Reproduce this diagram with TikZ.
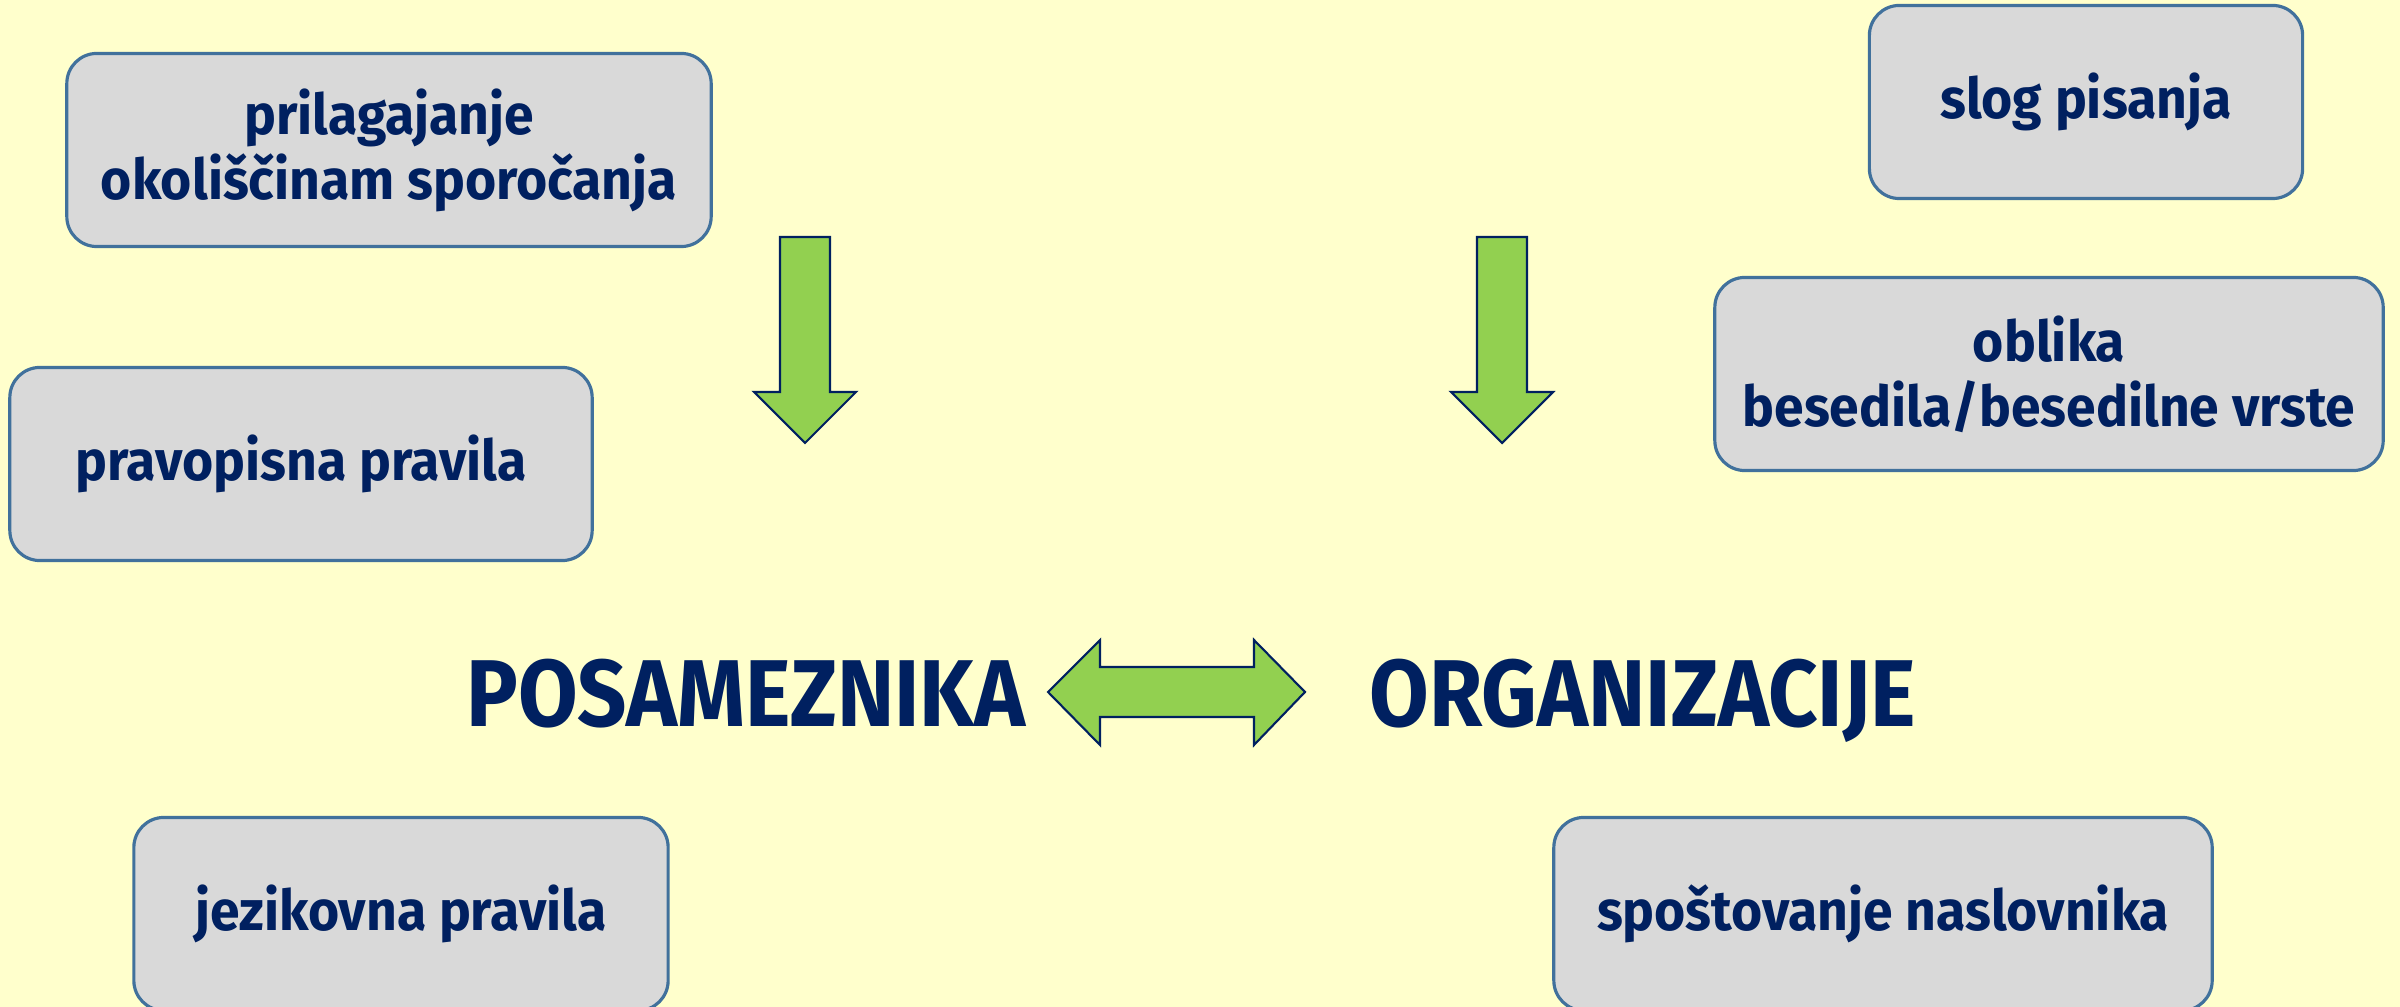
\documentclass[tikz,border=0pt]{standalone}
\usepackage{fontspec}
\setmainfont{Fira Sans}[FakeStretch=0.95]
\newfontfamily\bigfont{Fira Sans}[FakeStretch=0.91]
\usepackage{tikz}
\usetikzlibrary{positioning}

\definecolor{bgyellow}{HTML}{FFFFCC}
\definecolor{navy}{HTML}{002060}
\definecolor{boxgray}{HTML}{D9D9D9}
\definecolor{boxline}{HTML}{41719C}
\definecolor{arrowgreen}{HTML}{92D050}

\begin{document}
\begin{tikzpicture}[
    x=0.01cm, y=-0.01cm,
    textbox/.style={rectangle, rounded corners=0.3cm, minimum height=1.93cm, inner sep=0pt, align=center, draw=boxline, line width=0.9pt, fill=boxgray, text=navy, font=\bfseries\fontsize{16}{18.5}\selectfont},
    bigword/.style={anchor=base, inner sep=0pt, text=navy, font=\bigfont\bfseries\fontsize{27}{30}\selectfont},
    greenarrow/.style={fill=arrowgreen, draw=navy, line width=0.6pt, line join=miter}
]

% Hintergrund
\fill[bgyellow] (0,0) rectangle (2400,1007);
\useasboundingbox (0,0) rectangle (2400,1007);

% Kästen
\node (prilag) [textbox, minimum width=6.44cm] at (389,150) {prilagajanje\\okoliščinam sporočanja};
\node (pravop) [textbox, minimum width=5.82cm] at (301,464) {pravopisna pravila};
\node (jezik) [textbox, minimum width=5.34cm] at (401,914) {jezikovna pravila};
\node (slog) [textbox, minimum width=4.33cm] at (2086,102) {slog pisanja};
\node (oblika) [textbox, minimum width=6.68cm] at (2049,374) {oblika\\besedila/besedilne vrste};
\node (spost) [textbox, minimum width=6.58cm] at (1883,914) {spoštovanje naslovnika};

% Mitte
\node (posam) [bigword] at (746,727) {POSAMEZNIKA};
\node (organ) [bigword] at (1643,727) {ORGANIZACIJE};

% Pfeile
\coordinate (downL) at (805,237);
\coordinate (downR) at (1502,237);
\coordinate (dbl) at (1177,692);
\draw[greenarrow] (downL) ++(-25,0) -- ++(50,0) -- ++(0,155) -- ++(26,0) -- ++(-51,51) -- ++(-51,-51) -- ++(26,0) -- cycle;
\draw[greenarrow] (downR) ++(-25,0) -- ++(50,0) -- ++(0,155) -- ++(26,0) -- ++(-51,51) -- ++(-51,-51) -- ++(26,0) -- cycle;
\draw[greenarrow] (dbl) ++(-129,0) -- ++(52,-52) -- ++(0,27) -- ++(154,0) -- ++(0,-27) -- ++(51,52) -- ++(-51,53) -- ++(0,-28) -- ++(-154,0) -- ++(0,28) -- cycle;

\end{tikzpicture}
\end{document}
